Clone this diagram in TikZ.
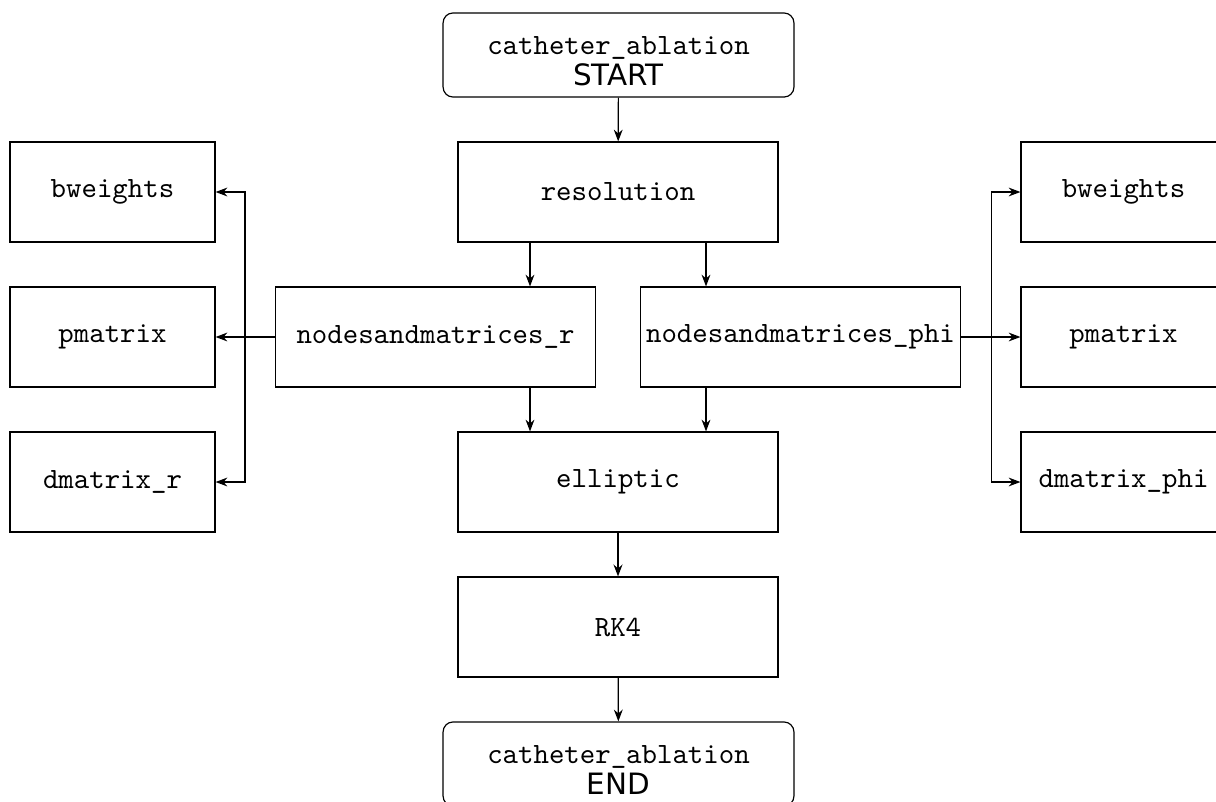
\documentclass[tikz,border=0pt]{standalone}
\usepackage{fontspec}
\setsansfont{DejaVu Sans}
\usetikzlibrary{arrows.meta}
\begin{document}
\begin{tikzpicture}[x=0.34pt,y=-0.34pt,
  box/.style={draw, rectangle, minimum width=108.8pt, minimum height=34pt, font=\ttfamily, inner sep=0pt},
  side/.style={box, minimum width=69.7pt},
  term/.style={draw, rounded corners=3.4pt, minimum width=119.3pt, minimum height=28.6pt, align=center, inner sep=0pt, text height=20.9pt, font=\sffamily},
  arr/.style={-{Stealth[length=4pt,width=3pt,inset=1.3pt]}}]
\useasboundingbox (0,0) rectangle (1216,801);
\node[term] (start) at (618.5,55) {\texttt{catheter\_ablation}\\[-1.3pt]START};
\node[box] (res) at (618,192) {resolution};
\node[box] (nr) at (435.5,337) {nodesandmatrices\_r};
\node[box] (np) at (800.5,337) {nodesandmatrices\_phi};
\node[box] (ell) at (618,482) {elliptic};
\node[box] (rk) at (618,627) {RK4};
\node[term] (end) at (618.5,764) {\texttt{catheter\_ablation}\\[-1.3pt]END};
\node[side] (bwl) at (112.5,192) {bweights};
\node[side] (pml) at (112.5,337) {pmatrix};
\node[side] (dml) at (112.5,482) {dmatrix\_r};
\node[side] (bwr) at (1123.5,192) {bweights};
\node[side] (pmr) at (1123.5,337) {pmatrix};
\node[side] (dmr) at (1123.5,482) {dmatrix\_phi};
\draw[arr] (start) -- (res);
\draw[arr] ([xshift=-29.92pt]res.south) -- ([xshift=-29.92pt]res.south |- nr.north);
\draw[arr] ([xshift=29.92pt]res.south) -- ([xshift=29.92pt]res.south |- np.north);
\draw[arr] ([xshift=-29.92pt]ell.north |- nr.south) -- ([xshift=-29.92pt]ell.north);
\draw[arr] ([xshift=29.92pt]ell.north |- np.south) -- ([xshift=29.92pt]ell.north);
\draw[arr, line width=0.7pt] (ell) -- (rk);
\draw[arr] (rk) -- (end);
\draw[arr] (nr.west) -- (pml.east);
\draw[arr] (nr.west) -- ++(-30,0) |- (bwl.east);
\draw[arr] (nr.west) -- ++(-30,0) |- (dml.east);
\draw[arr] (np.east) -- (pmr.west);
\draw[arr] (np.east) -- ++(30,0) |- (bwr.west);
\draw[arr] (np.east) -- ++(30,0) |- (dmr.west);
\end{tikzpicture}
\end{document}
